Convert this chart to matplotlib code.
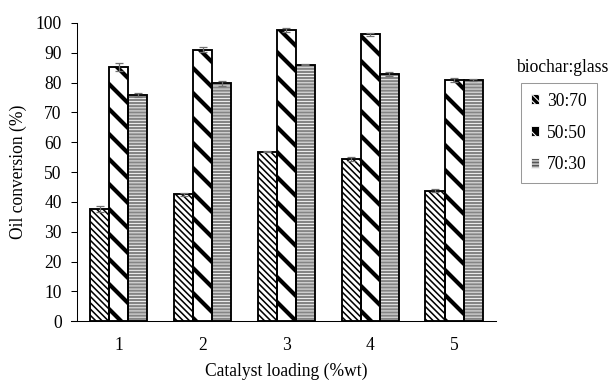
import matplotlib
matplotlib.use("Agg")
import matplotlib.pyplot as plt
import numpy as np
from matplotlib.patches import Patch

categories = ["1", "2", "3", "4", "5"]
series_names = ["30:70", "50:50", "70:30"]
v_30_70 = [37.5, 42.5, 56.8, 54.3, 43.7]
v_50_50 = [85.3, 91.0, 97.5, 96.1, 80.9]
v_70_30 = [75.7, 79.8, 86.0, 82.9, 80.8]
e_30_70 = [1.0, 0.6, 0.2, 0.6, 0.5]
e_50_50 = [1.3, 0.8, 0.7, 0.5, 0.7]
e_70_30 = [0.7, 0.8, 0.2, 0.6, 0.4]

plt.rcParams['font.family'] = ['Liberation Serif', 'DejaVu Serif']
FS = 16.8
DPI = 75
fig = plt.figure(figsize=(610 / DPI, 381 / DPI), dpi=DPI)
ax = fig.add_axes([0.126, 0.157, 0.687, 0.783])

x = np.arange(1, len(categories) + 1)
w = 0.227
offs = [-w, 0, w]
vals = [v_30_70, v_50_50, v_70_30]
errs = [e_30_70, e_50_50, e_70_30]
styles = [
    dict(face='white', hatch='\\\\\\\\', hcolor='black', hlw=1.5),
    dict(face='white', hatch='\\', hcolor='black', hlw=4.0),
    dict(face='#858585', hatch='----', hcolor='white', hlw=0.8),
]

handles = []
for i in range(3):
    st = styles[i]
    with plt.rc_context({'hatch.linewidth': st['hlw'], 'hatch.color': st['hcolor']}):
        ax.bar(x + offs[i], vals[i], w, color=st['face'], hatch=st['hatch'],
               edgecolor=st['hcolor'], linewidth=0, zorder=2)
    ax.bar(x + offs[i], vals[i], w, facecolor='none', edgecolor='black',
           linewidth=1.8, zorder=3)
    ax.errorbar(x + offs[i], vals[i], yerr=errs[i], fmt='none', ecolor='#707070',
                elinewidth=1.2, capsize=3.8, capthick=1.2, zorder=4)
    with plt.rc_context({'hatch.linewidth': st['hlw'] * 0.5, 'hatch.color': 'white'}):
        h = Patch(facecolor='black' if i < 2 else '#555555', hatch=st['hatch'],
                  edgecolor='white', linewidth=0.8, label=series_names[i])
    handles.append(h)

ax.set_xlim(0.5, 5.5)
ax.set_ylim(0, 100)
ax.set_yticks(np.arange(0, 101, 10))
ax.set_xticks(x)
ax.set_xticklabels(categories)
ax.tick_params(axis='y', direction='out', length=5.5, width=1, labelsize=FS, pad=9)
ax.tick_params(axis='x', length=0, labelsize=FS, pad=15)
for s in ['top', 'right']:
    ax.spines[s].set_visible(False)
ax.spines['left'].set_linewidth(1)
ax.spines['bottom'].set_linewidth(1)
ax.spines['bottom'].set_bounds(0.43, 5.5)
ax.set_ylabel("Oil conversion (%)", fontsize=FS, labelpad=8)
ax.set_xlabel("Catalyst loading (%wt)", fontsize=FS, labelpad=9)

leg = fig.legend(handles=handles, loc='upper left', bbox_to_anchor=(521 / 610, 1 - 83 / 381),
                 frameon=True, fancybox=False, fontsize=FS, handlelength=0.5,
                 handleheight=0.5, handletextpad=0.45, labelspacing=0.85,
                 borderpad=0.55, borderaxespad=0)
leg.get_frame().set_edgecolor('#808080')
leg.get_frame().set_linewidth(1)
fig.text(608 / 610, 1 - 67 / 381, "biochar:glass", fontsize=FS, ha='right', va='center')

fig.savefig("out.png", dpi=DPI)
